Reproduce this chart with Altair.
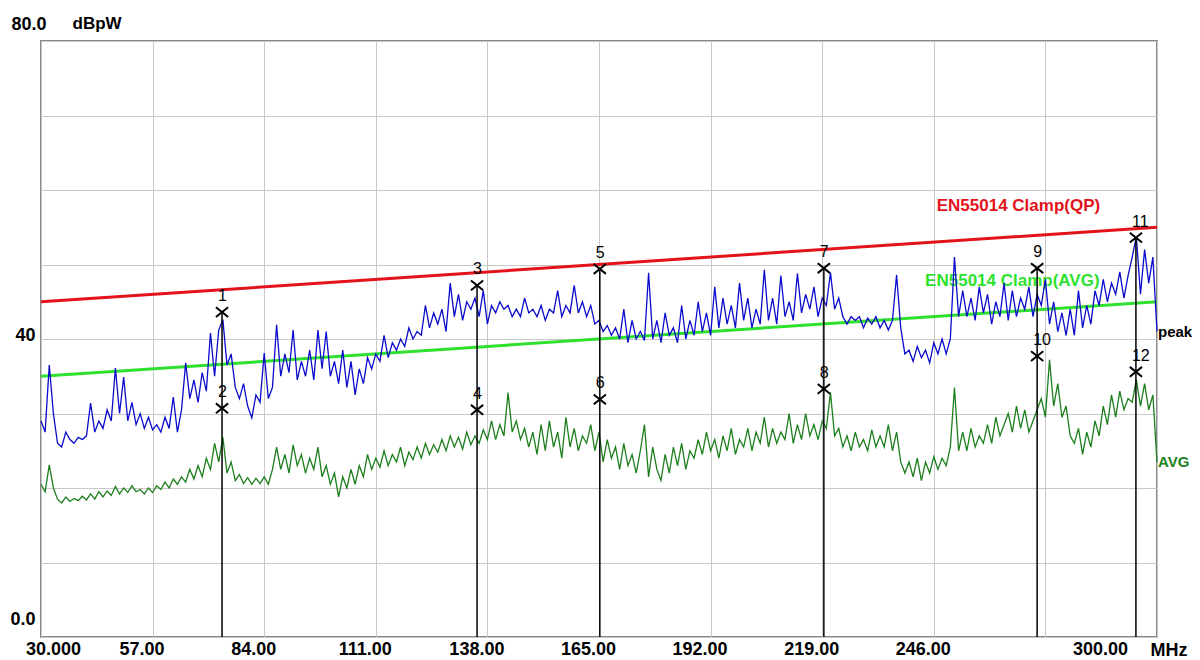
import altair as alt
import pandas as pd

# ---------------- data ----------------
freq_mhz = list(range(30, 301))

peak_dbpw = [
    29.0, 27.5, 36.5, 30.0, 26.0, 25.5, 27.5, 26.5, 26.0, 26.8,
    26.5, 27.0, 31.4, 27.5, 29.0, 28.0, 30.5, 29.0, 36.1, 30.0,
    34.9, 29.0, 31.5, 28.5, 30.0, 28.0, 29.5, 27.8, 28.5, 27.5,
    29.5, 28.0, 32.2, 27.5, 30.5, 36.8, 32.0, 34.5, 31.5, 35.5,
    33.0, 40.8, 35.0, 41.2, 42.6, 36.5, 38.0, 33.5, 32.0, 34.0,
    31.0, 29.4, 32.5, 31.5, 38.1, 32.0, 33.5, 41.9, 35.0, 38.0,
    35.5, 41.2, 34.5, 37.0, 35.0, 38.5, 34.5, 41.2, 36.0, 41.0,
    35.0, 37.0, 34.0, 38.5, 33.5, 37.0, 32.5, 36.0, 34.0, 37.5,
    36.0, 38.0, 37.0, 40.5, 37.5, 39.5, 38.5, 40.0, 39.0, 41.5,
    40.0, 41.0, 40.5, 44.5, 41.5, 43.5, 42.0, 44.0, 41.0, 47.5,
    43.0, 46.0, 42.5, 45.0, 44.0, 45.5, 43.0, 46.5, 42.0, 44.5,
    43.5, 45.0, 44.0, 44.5, 43.0, 44.0, 43.0, 45.5, 43.5, 44.0,
    43.0, 44.5, 42.5, 44.0, 43.5, 46.5, 43.0, 44.5, 43.5, 47.2,
    43.5, 45.0, 43.0, 44.5, 42.0, 42.5, 41.0, 41.8, 40.5, 41.5,
    40.0, 44.0, 39.5, 42.5, 40.0, 41.0, 39.8, 48.9, 40.0, 42.5,
    39.5, 43.5, 40.5, 41.5, 39.5, 44.5, 40.0, 42.5, 40.5, 45.0,
    41.0, 43.5, 40.5, 47.0, 41.5, 45.5, 42.0, 44.5, 41.5, 47.5,
    42.5, 45.5, 41.5, 44.0, 42.0, 49.3, 42.5, 45.5, 42.0, 48.5,
    43.0, 45.0, 42.5, 48.8, 43.5, 46.0, 44.0, 47.0, 43.0, 45.5,
    44.5, 48.9, 44.0, 45.5, 43.0, 42.0, 43.0, 42.5, 43.0, 41.5,
    42.8, 42.0, 43.0, 41.5, 42.5, 41.2, 42.5, 48.6, 41.5, 38.0,
    38.5, 37.0, 39.0, 37.5, 38.5, 36.8, 39.5, 38.0, 40.0, 38.0,
    40.0, 51.0, 43.0, 46.5, 43.0, 45.5, 42.5, 47.0, 43.5, 46.0,
    42.0, 45.0, 43.0, 47.5, 42.5, 46.5, 43.0, 45.5, 44.0, 47.0,
    43.0, 46.0, 44.5, 48.0, 42.0, 45.0, 41.0, 43.5, 40.5, 44.0,
    40.5, 46.5, 41.5, 44.5, 42.0, 46.5, 44.5, 48.0, 45.0, 47.5,
    46.0, 49.0, 45.5, 48.5, 51.0, 53.7, 46.0, 52.0, 47.5, 51.0,
    41.0,
]

avg_dbpw = [
    20.5, 19.5, 23.1, 20.0, 18.5, 18.0, 18.8, 18.2, 18.6, 18.3,
    18.9, 18.4, 19.2, 18.5, 19.5, 18.8, 19.6, 19.0, 20.2, 19.2,
    20.0, 19.4, 20.3, 19.5, 19.8, 19.2, 20.0, 19.4, 20.3, 19.8,
    20.8, 20.0, 21.2, 20.5, 21.5, 20.8, 22.5, 21.2, 23.0, 21.5,
    24.0, 22.5, 26.0, 23.5, 26.8, 22.0, 23.5, 21.0, 21.8, 20.6,
    21.4, 20.5, 21.3, 20.6, 21.5, 20.5, 22.5, 25.5, 22.5, 24.5,
    22.0, 25.8, 23.0, 24.5, 22.0, 24.0, 22.5, 25.5, 21.5, 23.0,
    20.5, 22.0, 18.8, 21.5, 20.0, 22.5, 20.5, 23.0, 21.5, 24.5,
    22.5, 24.0, 22.8, 25.0, 23.0, 24.5, 23.5, 25.5, 23.0, 24.8,
    23.8, 25.5, 24.0, 26.0, 24.5, 25.8, 24.8, 26.5, 25.0, 27.0,
    25.5, 26.8, 25.2, 27.5, 25.8, 27.0, 26.0, 27.8, 26.5, 29.0,
    26.5, 28.5, 27.0, 32.8, 27.5, 29.0, 26.5, 28.0, 25.5, 27.5,
    24.5, 28.5, 25.0, 29.0, 25.5, 27.5, 24.0, 29.5, 25.5, 28.0,
    25.0, 27.0, 26.0, 28.5, 25.0, 27.5, 23.5, 26.5, 24.0, 25.5,
    22.5, 26.0, 23.0, 24.5, 22.0, 25.0, 28.5, 21.5, 25.5, 22.5,
    21.0, 24.5, 22.0, 25.5, 23.0, 26.0, 22.5, 25.0, 24.0, 26.5,
    24.5, 27.5, 25.0, 26.5, 24.0, 27.0, 25.0, 28.0, 24.5, 26.5,
    25.5, 28.0, 25.0, 27.5, 26.0, 29.5, 25.5, 28.0, 26.0, 27.5,
    26.5, 30.0, 26.0, 28.5, 26.5, 30.0, 27.0, 28.5, 26.5, 29.0,
    28.0, 32.8, 27.0, 28.0, 25.5, 27.0, 25.0, 27.5, 25.5, 26.5,
    25.0, 27.8, 25.5, 27.0, 25.5, 28.5, 25.0, 27.5, 23.5, 22.0,
    23.5, 21.5, 24.0, 21.0, 23.5, 22.0, 24.2, 22.5, 24.0, 23.0,
    25.5, 33.5, 25.0, 27.5, 25.0, 28.0, 25.5, 27.0, 26.0, 28.5,
    26.0, 29.5, 27.0, 28.5, 30.0, 27.5, 31.0, 28.0, 30.5, 27.5,
    29.0, 30.5, 32.0, 29.5, 37.2, 31.0, 34.0, 29.5, 31.0, 27.0,
    26.0, 28.0, 24.5, 27.5, 25.5, 29.0, 27.0, 31.0, 28.5, 32.5,
    29.5, 33.0, 30.5, 32.0, 31.5, 34.5, 31.0, 34.0, 30.5, 32.5,
    23.5,
]

limit_freq = [30, 300]
limit_qp = [45.0, 55.0]
limit_avg = [35.0, 45.0]
limit_qp_name = "EN55014 Clamp(QP)"
limit_avg_name = "EN55014 Clamp(AVG)"

marker_ids = ["1", "2", "3", "4", "5", "6", "7", "8", "9", "10", "11", "12"]
marker_freq = [73.8, 73.8, 135.5, 135.5, 165.2, 165.2, 219.4, 219.4, 271.0, 271.0, 294.9, 294.9]
marker_level = [43.6, 30.7, 47.2, 30.5, 49.4, 31.9, 49.5, 33.3, 49.5, 37.7, 53.6, 35.6]

x_tick_values = [30, 57, 84, 111, 138, 165, 192, 219, 246, 273, 300]
x_tick_labels = ["30.000", "57.00", "84.00", "111.00", "138.00", "165.00",
                 "192.00", "219.00", "246.00", "", "300.00"]
y_tick_values = [0, 10, 20, 30, 40, 50, 60, 70, 80]
y_tick_labels = ["0.0", "", "", "", "40", "", "", "", "80.0"]

series_names = ["peak", "AVG"]

# ---------------- styling ----------------
FONT = "Liberation Sans"
BLUE = "#0b0bcc"
DKGREEN = "#1c7f1c"
RED = "#e3131b"
LTGREEN = "#2fe12f"


def label_expr(values, labels):
    parts = [f"datum.value == {v} ? '{t}'" for v, t in zip(values, labels)]
    return " : ".join(parts) + " : ''"


def limit_at(f, lim):
    return lim[0] + (lim[1] - lim[0]) * (f - limit_freq[0]) / (limit_freq[1] - limit_freq[0])


trace_df = pd.DataFrame({
    "freq": freq_mhz * 2,
    "level": peak_dbpw + avg_dbpw,
    "series": ["peak"] * len(freq_mhz) + ["AVG"] * len(freq_mhz),
})
limit_df = pd.DataFrame({
    "freq": limit_freq * 2,
    "level": limit_qp + limit_avg,
    "limit": [limit_qp_name] * 2 + [limit_avg_name] * 2,
})
marker_df = pd.DataFrame({
    "id": marker_ids,
    "freq": marker_freq,
    "level": marker_level,
    "base": [0] * len(marker_ids),
    "odd": [i % 2 == 0 for i in range(len(marker_ids))],
})
end_df = pd.DataFrame({
    "series": series_names,
    "freq": [freq_mhz[-1], freq_mhz[-1]],
    "level": [peak_dbpw[-1], avg_dbpw[-1]],
})

# frequency where each limit-line name starts
qp_label_freq = 246.7
avg_label_freq = 243.9
limit_label_df = pd.DataFrame({
    "name": [limit_qp_name, limit_avg_name],
    "freq": [qp_label_freq, avg_label_freq],
    "level": [limit_at(qp_label_freq, limit_qp), limit_at(avg_label_freq, limit_avg)],
})

x_scale = alt.Scale(domain=[30, 300], nice=False, zero=False)
y_scale = alt.Scale(domain=[0, 80], nice=False, zero=False)

x_axis = alt.Axis(
    values=x_tick_values,
    labelExpr=label_expr(x_tick_values, x_tick_labels),
    grid=True, ticks=False, domain=False,
    labelFont=FONT, labelFontSize=18, labelFontWeight="bold", labelColor="#000",
    labelPadding=3, labelBaseline="top", labelAlign="center",
    labelOffset={"condition": [
        {"test": "datum.value == 30", "value": 12},
        {"test": "datum.value == 300", "value": -57},
    ], "value": -11},
    labelOverlap=False, labelFlush=False,
    title="MHz", titleFont=FONT, titleFontSize=18, titleFontWeight="bold",
    titleColor="#000", titleAlign="left", titleBaseline="middle",
    titleX=1109, titleY=13, titleAnchor="start",
)
y_axis = alt.Axis(
    values=y_tick_values,
    labelExpr=label_expr(y_tick_values, y_tick_labels),
    grid=True, ticks=False, domain=False,
    labelFont=FONT, labelFontSize=18, labelFontWeight="bold", labelColor="#000",
    labelAlign="right", labelBaseline="middle",
    labelPadding={"condition": {"test": "datum.value == 80", "value": -5}, "value": 6},
    labelOffset={"condition": [
        {"test": "datum.value == 80", "value": -17},
        {"test": "datum.value == 0", "value": -18},
    ], "value": -4},
    labelOverlap=False, labelFlush=False,
    title="dBpW", titleFont=FONT, titleFontSize=17, titleFontWeight="bold",
    titleColor="#000", titleAngle=0, titleAlign="left", titleBaseline="middle",
    titleX=31, titleY=-18, titleAnchor="start",
)

X = alt.X("freq:Q", scale=x_scale, axis=x_axis)
Y = alt.Y("level:Q", scale=y_scale, axis=y_axis)
Xn = alt.X("freq:Q", scale=x_scale)
Yn = alt.Y("level:Q", scale=y_scale)

limits = alt.Chart(limit_df).mark_line(strokeWidth=3).encode(
    x=X, y=Y, detail="limit:N",
    color=alt.Color("limit:N", scale=alt.Scale(domain=[limit_qp_name, limit_avg_name],
                                               range=[RED, LTGREEN]), legend=None),
)
limit_labels = alt.Chart(limit_label_df).mark_text(
    font=FONT, fontSize=17, fontWeight="bold", align="left", baseline="middle", dy=-36
).encode(
    x=Xn, y=Yn, text="name:N",
    color=alt.Color("name:N", scale=alt.Scale(domain=[limit_qp_name, limit_avg_name],
                                              range=[RED, LTGREEN]), legend=None),
)
peak_line = alt.Chart(trace_df).transform_filter("datum.series == 'peak'").mark_line(
    strokeWidth=1.3, color=BLUE).encode(x=Xn, y=Yn)
avg_line = alt.Chart(trace_df).transform_filter("datum.series == 'AVG'").mark_line(
    strokeWidth=1.3, color=DKGREEN).encode(x=Xn, y=Yn)

marker_rules = alt.Chart(marker_df).transform_filter("datum.odd").mark_rule(
    color="#000", strokeWidth=1.5).encode(x=Xn, y=Yn, y2="base:Q")
marker_x = alt.Chart(marker_df).mark_point(
    shape="M-1,-0.8L1,0.8M-1,0.8L1,-0.8", size=150, filled=False,
    color="#000", strokeWidth=2, opacity=1).encode(x=Xn, y=Yn)
marker_txt = alt.Chart(marker_df).mark_text(
    font=FONT, fontSize=16, align="left", baseline="middle", dx=-4, dy=-16, color="#000").encode(
    x=Xn, y=Yn, text="id:N")

end_labels = alt.Chart(end_df).mark_text(
    font=FONT, fontSize=15, fontWeight="bold", align="left", baseline="middle", dx=1).encode(
    x=Xn, y=Yn, text="series:N",
    color=alt.Color("series:N", scale=alt.Scale(domain=series_names, range=["#000", DKGREEN]), legend=None),
)

chart = alt.layer(
    limits, limit_labels, peak_line, avg_line, marker_rules, marker_x, marker_txt, end_labels
).resolve_scale(color="independent").properties(
    width=1116, height=596,
    autosize=alt.AutoSizeParams(type="none"),
    padding={"left": 33, "top": 33, "right": 35, "bottom": 21},
    background="#ffffff",
).configure_view(
    stroke="#888888", strokeWidth=2
).configure_axis(
    gridColor="#c8c8c8", gridWidth=1, gridOpacity=1
)

chart.save("out.html", embed_options={"renderer": "svg", "actions": False})
